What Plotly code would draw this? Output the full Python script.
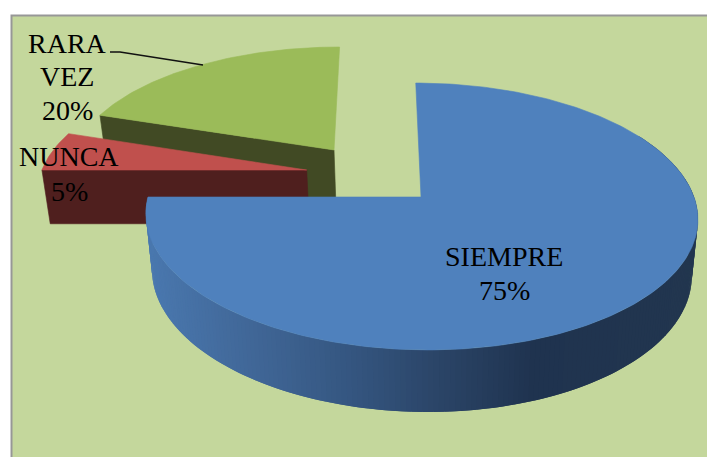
import math
import plotly.graph_objects as go

# Data
categories = ["SIEMPRE", "NUNCA", "RARA VEZ"]
values = [75, 5, 20]
label_lines = [["SIEMPRE", "75%"], ["NUNCA", "5%"], ["RARA", "VEZ", "20%"]]

# Styles
TOP = ["#4F81BD", "#C0504D", "#9BBB59"]
CUT = ["#1F3350", "#4F1F1E", "#414A24"]
BG = "#C4D79C"
FONT = "Liberation Serif"
W, H = 707, 457

# 3D view of the pie: circle plane projected with perspective
K = 0.146
TOP_PLANE = dict(x0=421, y0=197, b=273, a=130.6, s=-6)
BASE_PLANE = dict(x0=421, y0=252, b=267, a=136.6, s=-6)
EXPLODE = [(0.0, 0.0), (-0.427, 0.213), (-0.328, 0.38)]


def project(X, Y, p):
    d = 1 + K * Y
    return p["x0"] + (p["b"] * X + p["s"] * Y) / d, p["y0"] - p["a"] * Y / d


def wedge(i, a0, a1, plane, step=1.0):
    ox, oy = EXPLODE[i]
    n = max(2, int((a1 - a0) / step) + 1)
    pts = []
    for j in range(n):
        t = math.radians(a0 + (a1 - a0) * j / (n - 1))
        pts.append(project(ox + math.sin(t), oy + math.cos(t), plane))
    return pts


def lerp_colour(x):
    stops = [(145, (74, 120, 175)), (250, (64, 102, 150)), (350, (52, 85, 127)),
             (430, (43, 69, 104)), (530, (31, 51, 79)), (700, (34, 54, 79))]
    for (x0, c0), (x1, c1) in zip(stops, stops[1:]):
        if x <= x1:
            f = max(0, (x - x0) / (x1 - x0))
            return "rgb(%d,%d,%d)" % tuple(round(u + (v - u) * f) for u, v in zip(c0, c1))
    return "rgb(34,54,79)"


def poly(pts, colour, width=0.6):
    return go.Scatter(x=[p[0] for p in pts] + [pts[0][0]], y=[p[1] for p in pts] + [pts[0][1]],
                      mode="lines", fill="toself", fillcolor=colour,
                      line=dict(color=colour, width=width), hoverinfo="skip", showlegend=False)


angles = []
acc = 0
for v in values:
    angles.append((acc * 3.6, (acc + v) * 3.6))
    acc += v

fig = go.Figure()

# back to front: green, red, blue
for i in [2, 1]:
    a0, a1 = angles[i]
    ox, oy = EXPLODE[i]
    apex_t = project(ox, oy, TOP_PLANE)
    apex_b = project(ox, oy, BASE_PLANE)
    edge_t = wedge(i, a0, a0, TOP_PLANE)[0]
    edge_b = wedge(i, a0, a0, BASE_PLANE)[0]
    fig.add_trace(poly([edge_t, apex_t, apex_b, edge_b], CUT[i]))
    fig.add_trace(poly([apex_t] + wedge(i, a0, a1, TOP_PLANE), TOP[i]))

# blue outer wall, in overlapping strips for the light gradient (right to left)
a0, a1 = angles[0]
ang = 60.0
while ang < a1:
    nxt = min(ang + 1.0, a1)
    end = max(ang - 1.0, 60.0)
    t = wedge(0, end, nxt, TOP_PLANE, 0.5)
    b = wedge(0, end, nxt, BASE_PLANE, 0.5)
    xm = (wedge(0, ang, ang, TOP_PLANE)[0][0] + wedge(0, nxt, nxt, TOP_PLANE)[0][0]) / 2
    fig.add_trace(poly(t + b[::-1], lerp_colour(xm), 0))
    ang = nxt
apex = project(0, 0, TOP_PLANE)
fig.add_trace(poly([apex] + wedge(0, a0, a1, TOP_PLANE), TOP[0]))

# leader line for RARA VEZ
fig.add_trace(go.Scatter(x=[110, 120, 203], y=[52, 52, 65], mode="lines",
                         line=dict(color="#111111", width=1.5), hoverinfo="skip", showlegend=False))

# labels
label_pos = [(504, 256.5, 34), (69, 156.5, 34.5), (67, 43, 33.5)]
for lines, (x, y, dy) in zip(label_lines, label_pos):
    for k, txt in enumerate(lines):
        fig.add_annotation(x=x, y=y + k * dy, text=txt, showarrow=False, xanchor="center", yanchor="middle",
                           font=dict(family=FONT, size=28, color="#000000"))

fig.update_layout(
    width=W, height=H, margin=dict(l=0, r=0, t=0, b=0), autosize=False,
    paper_bgcolor="#FFFFFF", plot_bgcolor="#FFFFFF", showlegend=False,
    xaxis=dict(range=[0, W], visible=False, fixedrange=True),
    yaxis=dict(range=[H, 0], visible=False, fixedrange=True),
    shapes=[dict(type="rect", xref="x", yref="y", x0=11.5, y0=15.5, x1=W + 10, y1=H + 10,
                 fillcolor=BG, line=dict(color="#979797", width=2), layer="below")],
)
fig.write_html(
    "out.html",
    config=dict(displayModeBar=False),
    post_script="document.body.style.margin='0';document.documentElement.style.overflow='hidden';",
)
